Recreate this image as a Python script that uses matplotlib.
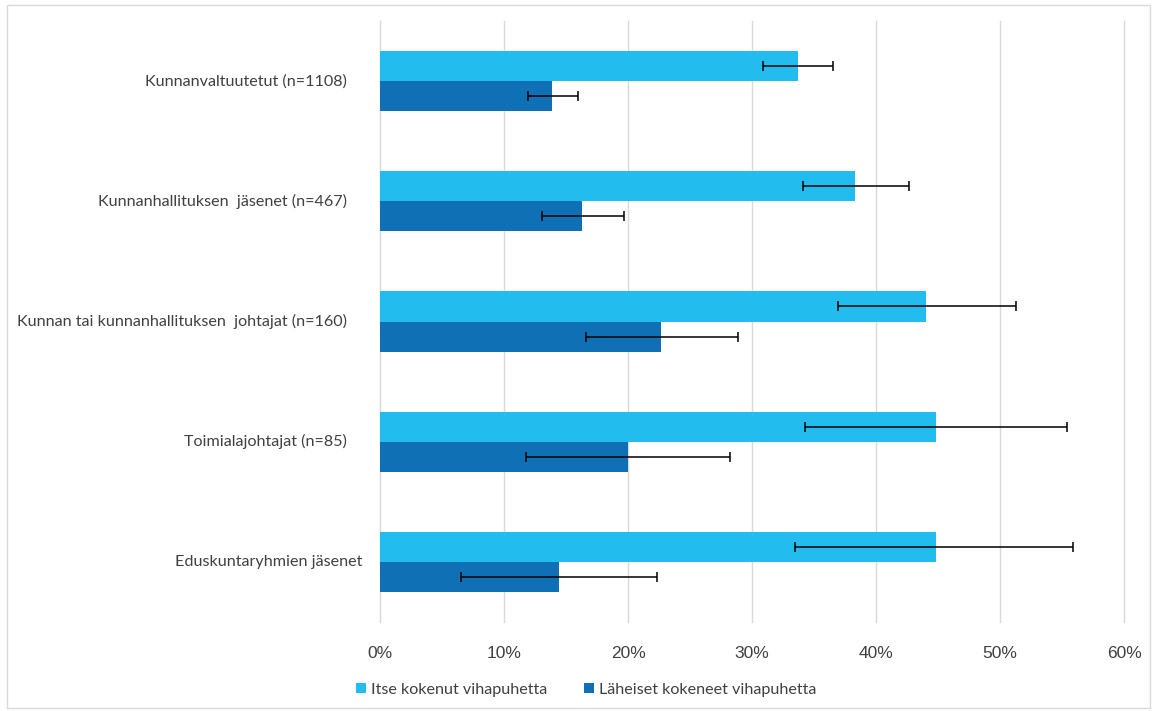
import numpy as np
import matplotlib
matplotlib.use("Agg")
import matplotlib.pyplot as plt
from matplotlib.patches import Rectangle

# values (percent)
categories = [
    "Kunnanvaltuutetut (n=1108)",
    "Kunnanhallituksen  jäsenet (n=467)",
    "Kunnan tai kunnanhallituksen  johtajat (n=160)",
    "Toimialajohtajat (n=85)",
    "Eduskuntaryhmien jäsenet",
]
series_names = ["Itse kokenut vihapuhetta", "Läheiset kokeneet vihapuhetta"]

itse = [33.7, 38.3, 44.0, 44.8, 44.8]
itse_lo = [30.9, 34.1, 36.9, 34.3, 33.5]
itse_hi = [36.5, 42.7, 51.3, 55.4, 55.9]

laheiset = [13.9, 16.3, 22.7, 20.0, 14.4]
laheiset_lo = [11.9, 13.1, 16.6, 11.8, 6.5]
laheiset_hi = [16.0, 19.7, 28.9, 28.2, 22.3]

xticks = [0, 10, 20, 30, 40, 50, 60]

c_light = "#22bcee"
c_dark = "#1070b5"
txt = "#404040"

fig = plt.figure(figsize=(11.61, 7.11), dpi=100)
ax = fig.add_axes([380 / 1161, 1 - 622 / 711, 744 / 1161, 601 / 711])

y = np.arange(len(categories))
h = 0.25

itse = np.array(itse)
laheiset = np.array(laheiset)
err_i = [itse - np.array(itse_lo), np.array(itse_hi) - itse]
err_l = [laheiset - np.array(laheiset_lo), np.array(laheiset_hi) - laheiset]

ax.barh(y - h / 2, itse, height=h, color=c_light, label=series_names[0], zorder=2)
ax.barh(y + h / 2, laheiset, height=h, color=c_dark, label=series_names[1], zorder=2)
ax.errorbar(itse, y - h / 2, xerr=err_i, fmt="none", ecolor="black",
            elinewidth=1.1, capsize=3.5, capthick=1.1, zorder=3)
ax.errorbar(laheiset, y + h / 2, xerr=err_l, fmt="none", ecolor="black",
            elinewidth=1.1, capsize=3.5, capthick=1.1, zorder=3)

ax.set_xlim(0, 60)
ax.set_ylim(len(categories) - 0.5, -0.5)
ax.set_xticks(xticks)
ax.set_xticklabels([f"{v}%" for v in xticks], fontsize=12.5, color=txt,
                   family="Liberation Sans")
ax.tick_params(axis="x", length=0, pad=17)
ax.set_yticks([])
ax.grid(axis="x", color="#d9d9d9", linewidth=1, zorder=0)
for gl in ax.get_xgridlines():
    gl.set_clip_on(False)
for s in ["top", "right", "bottom"]:
    ax.spines[s].set_visible(False)
ax.spines["left"].set_color("#d9d9d9")
ax.spines["left"].set_zorder(1)

# category labels (last one sits a bit further right in the original)
offsets = [-33, -33, -33, -33, -18]
for yi, lab, off in zip(y, categories, offsets):
    ax.annotate(lab, xy=(0, yi), xycoords=("axes fraction", "data"),
                xytext=(off * 0.72, 0), textcoords="offset points",
                ha="right", va="center", fontsize=11.6, color=txt, family="Lato")

fig.legend(loc="center", bbox_to_anchor=(0.505, 1 - 690 / 711), ncol=2,
           frameon=False, handlelength=0.6, handleheight=0.6,
           handletextpad=0.3, columnspacing=2.3,
           prop={"family": "Lato", "size": 11.6})
for t in fig.legends[0].get_texts():
    t.set_color(txt)

# light frame around the whole chart
fig.patches.append(Rectangle((7 / 1161, 3 / 711), 1143 / 1161, 703 / 711,
                             transform=fig.transFigure, fill=False,
                             edgecolor="#d9d9d9", linewidth=1))

fig.savefig("out.png", dpi=100)
